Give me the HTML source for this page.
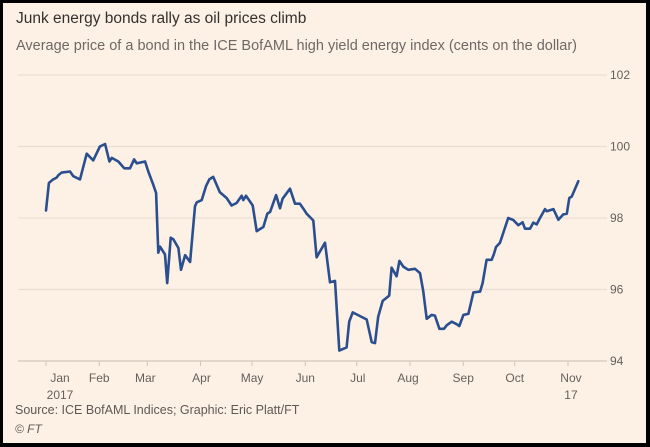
<!DOCTYPE html>
<html><head><meta charset="utf-8"><style>
html,body{margin:0;padding:0;}
body{width:650px;height:447px;background:#000;position:relative;overflow:hidden;font-family:"Liberation Sans",sans-serif;}
#card{position:absolute;left:3px;top:3px;width:643px;height:440px;background:#fdf1e6;}
.t{position:absolute;white-space:nowrap;}
</style></head><body>
<div id="card">
<div class="t" style="left:13px;top:7px;font-size:15.5px;color:#33302e;">Junk energy bonds rally as oil prices climb</div>
<div class="t" style="left:13px;top:35px;font-size:14.5px;color:#6e6964;">Average price of a bond in the ICE BofAML high yield energy index (cents on the dollar)</div>
<div class="t" style="left:12px;top:400px;font-size:12.5px;color:#5e5955;">Source: ICE BofAML Indices; Graphic: Eric Platt/FT</div>
<div class="t" style="left:12px;top:419px;font-size:12px;color:#5e5955;font-style:italic;">© FT</div>
</div>
<svg id="chart" width="650" height="447" style="position:absolute;left:0;top:0"></svg>
<script>
const yTicks=[94,96,98,100,102];
const monthLabels=["Jan","Feb","Mar","Apr","May","Jun","Jul","Aug","Sep","Oct","Nov"];
const monthStartDays=[0,31,59,90,120,151,181,212,243,273,304];
const days=[0,1.7,3.9,6.2,7.2,9.1,14,15.9,19.8,23.7,27.5,31.4,34.4,36.9,38.3,42.1,45.6,48.9,51.3,52.8,57.7,59.6,62.5,64.1,65.4,66.4,69.3,70.6,72.6,74.2,77.1,78.6,81,83.9,86.8,87.8,90.7,93.2,95.1,97.4,101.3,105.2,108.1,111,114,114.9,116.5,120.4,122.7,126.6,128.9,130.5,134,136.3,137.8,142.1,145,147.9,149.9,151.8,155.7,157.6,162.5,165.4,168.3,170.8,175.1,176.6,178.6,183.9,186.8,189.7,191.6,193.5,196.1,199.9,201.3,204.2,205.8,208.1,211,214.9,217.8,219.7,221.7,224.6,226.5,229.1,231.8,233.4,236.3,239.2,240.7,243.1,246,248.9,252.8,254.3,256.6,259.6,260.9,262.1,264.4,269.2,272.2,275.1,277.6,279,281.9,283.8,285.8,287.7,290.6,291.6,295.5,298.4,301.3,303.3,304.8,306.2,310];
const prices=[98.21,98.98,99.07,99.13,99.2,99.27,99.3,99.17,99.08,99.8,99.61,100.0,100.07,99.58,99.68,99.58,99.39,99.39,99.64,99.53,99.58,99.3,98.93,98.7,97.03,97.2,96.98,96.18,97.45,97.4,97.16,96.55,96.96,96.77,98.33,98.44,98.5,98.89,99.08,99.15,98.72,98.56,98.35,98.42,98.62,98.5,98.62,98.35,97.63,97.75,98.12,98.17,98.64,98.27,98.54,98.82,98.4,98.4,98.26,98.12,97.93,96.9,97.31,96.2,96.24,94.29,94.38,95.1,95.36,95.23,95.16,94.53,94.5,95.24,95.68,95.83,96.61,96.37,96.8,96.64,96.55,96.58,96.46,95.96,95.18,95.29,95.27,94.9,94.9,95.0,95.1,95.03,94.98,95.29,95.32,95.92,95.94,96.18,96.83,96.83,97.0,97.19,97.31,98.0,97.94,97.8,97.88,97.7,97.7,97.87,97.82,98.0,98.25,98.19,98.25,97.95,98.1,98.12,98.56,98.6,99.03];
const NS="http://www.w3.org/2000/svg";
const svg=document.getElementById('chart');
const x0=46,pxPerDay=1.717;
function xs(d){return x0+d*pxPerDay;}
function ys(v){return 75+(102-v)*35.75;}
function mk(tag,attrs){const e=document.createElementNS(NS,tag);for(const k in attrs)e.setAttribute(k,attrs[k]);svg.appendChild(e);return e;}
yTicks.forEach(v=>{
  const l=mk('line',{x1:18,x2:607,y1:ys(v),y2:ys(v),stroke:v===94?'#cfc5bb':'#ebdfd3','stroke-width':1.2});
  
  
  const t=mk('text',{x:610,y:ys(v)+4,'font-size':12,fill:'#66605c','font-family':'Liberation Sans, sans-serif'});
  t.textContent=v;
  
  
});
const labelOffsets=[14,0,-2,1,0,0,1,-2,0,0,3];
monthStartDays.forEach((d,i)=>{
  const tk=mk('line',{x1:xs(d),x2:xs(d),y1:ys(94),y2:ys(94)+5,stroke:'#cfc5bb','stroke-width':1});
  
  
  const t=mk('text',{x:xs(d)+labelOffsets[i],y:382,'font-size':12,fill:'#66605c','text-anchor':'middle','font-family':'Liberation Sans, sans-serif'});
  t.textContent=monthLabels[i];
  
  
});
const y1=mk('text',{x:xs(0)+14,y:399,'font-size':12,fill:'#66605c','text-anchor':'middle','font-family':'Liberation Sans, sans-serif'});
y1.textContent='2017';


const y2=mk('text',{x:xs(304)+3,y:399,'font-size':12,fill:'#66605c','text-anchor':'middle','font-family':'Liberation Sans, sans-serif'});
y2.textContent='17';


const pts=days.map((d,i)=>xs(d).toFixed(1)+','+ys(prices[i]).toFixed(1)).join(' ');
const pl=mk('polyline',{points:pts,fill:'none',stroke:'#2b4e8f','stroke-width':2.6,'stroke-linejoin':'round','stroke-linecap':'round'});


</script>
</body></html>
